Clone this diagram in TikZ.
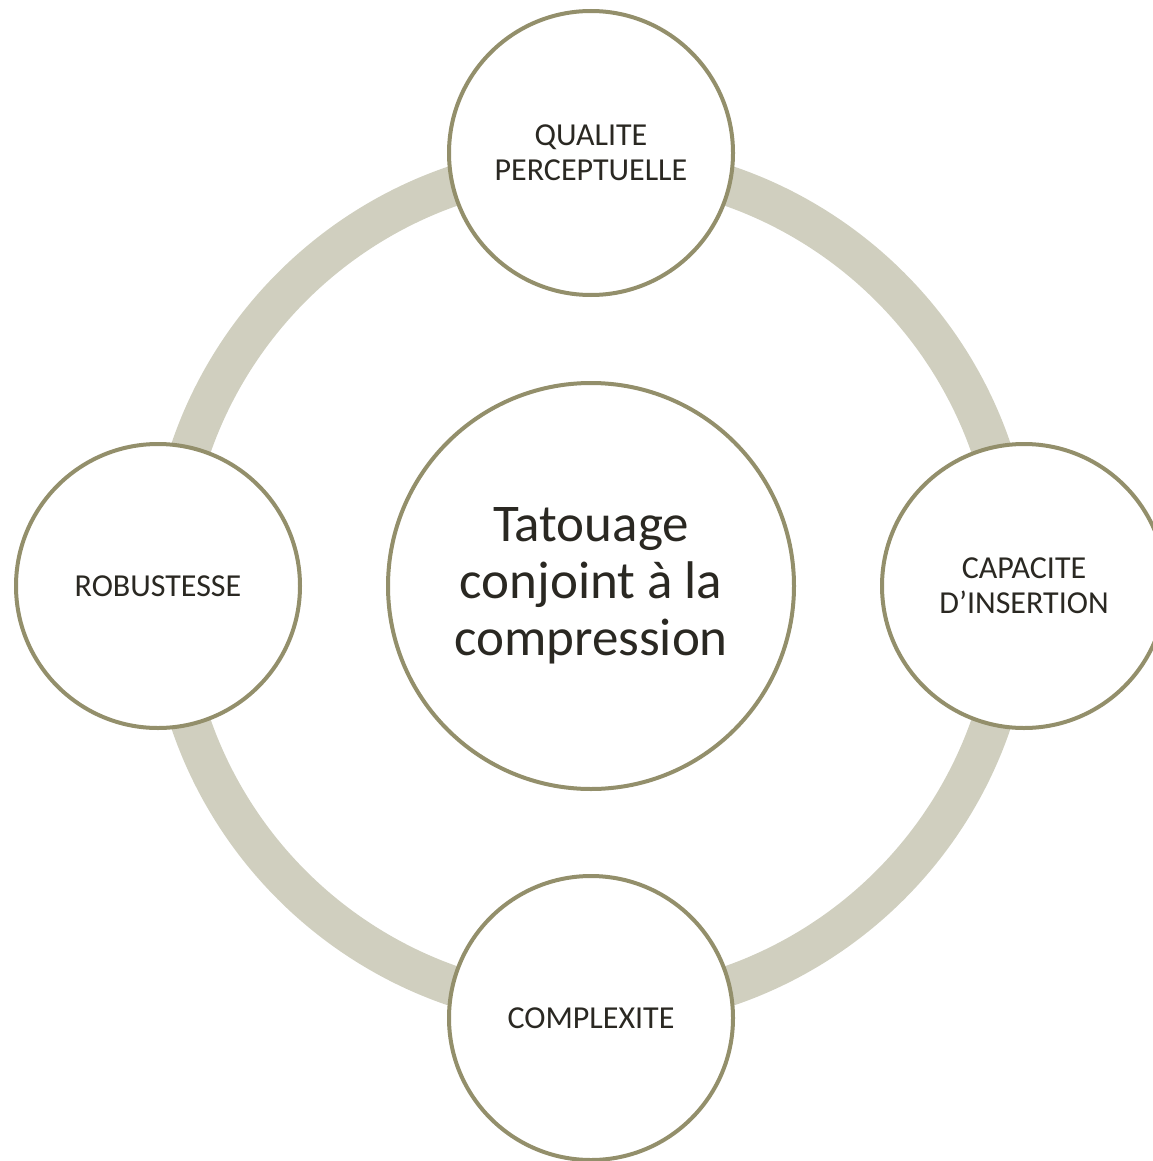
\documentclass[tikz,border=0pt]{standalone}
\usepackage{fontspec}
\setmainfont{Carlito}
\definecolor{ringc}{HTML}{D0CFBF}
\definecolor{edgec}{HTML}{938F6B}
\definecolor{txtc}{HTML}{2A2822}
\begin{document}
\begin{tikzpicture}[x=1pt,y=-1pt,
  sat/.style={circle,draw=edgec,line width=4pt,fill=white,minimum size=284pt,inner sep=0pt,
    align=center,text=txtc,font=\fontsize{32}{35}\selectfont},
  hub/.style={circle,draw=edgec,line width=4pt,fill=white,minimum size=406pt,inner sep=0pt,
    align=center,text=txtc,font=\fontsize{53}{57}\selectfont}]
\useasboundingbox (0,0) rectangle (1152,1161);
\coordinate (o) at (591,586);
\draw[ringc,line width=40pt] (o) circle[radius=423];
\node[hub] (c) at (o) {Tatouage\\conjoint à la\\compression};
\node[sat] (q) at (591,153) {QUALITE\\PERCEPTUELLE};
\node[sat] (r) at (158,586) {ROBUSTESSE};
\node[sat] (k) at (1024,586) {CAPACITE\\D’INSERTION};
\node[sat] (x) at (591,1018) {COMPLEXITE};
\end{tikzpicture}
\end{document}
